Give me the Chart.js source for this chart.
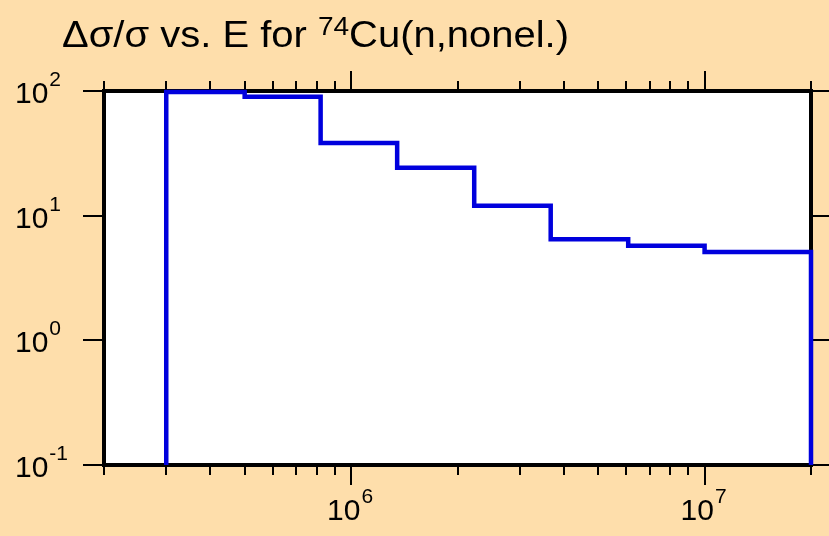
<!DOCTYPE html>
<html>
<head>
<meta charset="utf-8">
<script src="https://cdn.jsdelivr.net/npm/chart.js@4.4.1/dist/chart.umd.min.js"></script>
<style>
  html, body { margin: 0; padding: 0; background: #fedeab; }
  #wrap { width: 829px; height: 536px; }
</style>
</head>
<body>
<div id="wrap"><canvas id="myChart" width="829" height="536"></canvas></div>
<script>
// bin edges in eV and relative uncertainty (%) per bin
const binEdges = [3e5, 5e5, 8.2e5, 1.35e6, 2.23e6, 3.67e6, 6.08e6, 1e7, 2e7];
const relUnc = [98, 90, 38.3, 24.2, 12.0, 6.47, 5.74, 5.12];
const yFloor = 0.1;

// axis ticks (decades) and their exponent labels
const xMajorTicks = [1e6, 1e7];
const xMajorExp = ['6', '7'];
const yMajorTicks = [0.1, 1, 10, 100];
const yMajorExp = ['-1', '0', '1', '2'];
const xMinorMant = [2, 3, 4, 5, 6, 7, 8, 9];
const xDecades = [1e5, 1e6, 1e7];

const FONT = '"Liberation Sans", Arial, sans-serif';

// puntos del histograma (escalones)
const points = [{ x: binEdges[0], y: yFloor }];
relUnc.forEach((v, i) => points.push({ x: binEdges[i], y: v }));
points.push({ x: binEdges[binEdges.length - 1], y: relUnc[relUnc.length - 1] });
points.push({ x: binEdges[binEdges.length - 1], y: yFloor });

function drawPow(ctx, exp, x, y) {
    // "10" con exponente, x = borde izquierdo, y = linea base
    ctx.font = '30px ' + FONT;
    ctx.textAlign = 'left';
    ctx.textBaseline = 'alphabetic';
    ctx.fillText('10', x, y);
    const w = ctx.measureText('10').width;
    ctx.font = '21px ' + FONT;
    ctx.fillText(exp, x + w + 1, y - 17);
}

function powWidth(ctx, exp) {
    ctx.font = '30px ' + FONT;
    const w = ctx.measureText('10').width;
    ctx.font = '21px ' + FONT;
    return w + 1 + ctx.measureText(exp).width;
}

const framePlugin = {
    id: 'frame',
    beforeDraw(chart) {
        const { ctx, chartArea: a } = chart;
        ctx.save();
        ctx.fillStyle = '#fedeab';
        ctx.fillRect(0, 0, chart.width, chart.height);
        ctx.fillStyle = '#ffffff';
        ctx.fillRect(a.left, a.top, a.right - a.left, a.bottom - a.top);
        ctx.restore();
    },
    beforeDatasetsDraw(chart) {
        const { ctx, chartArea: a } = chart;
        const xs = chart.scales.x, ys = chart.scales.y;
        ctx.save();
        ctx.strokeStyle = '#000';
        ctx.fillStyle = '#000';

        // ticks menores y mayores en x (abajo y arriba)
        ctx.lineWidth = 2;
        ctx.beginPath();
        xDecades.forEach(d => {
            xMinorMant.forEach(m => {
                const v = d * m;
                if (v < xs.min - 1 || v > xs.max + 1) return;
                const px = Math.round(xs.getPixelForValue(v));
                ctx.moveTo(px, a.bottom); ctx.lineTo(px, a.bottom + 10);
                ctx.moveTo(px, a.top); ctx.lineTo(px, a.top - 10);
            });
        });
        xMajorTicks.forEach(v => {
            const px = Math.round(xs.getPixelForValue(v));
            ctx.moveTo(px, a.bottom); ctx.lineTo(px, a.bottom + 20);
            ctx.moveTo(px, a.top); ctx.lineTo(px, a.top - 20);
        });
        // ticks en y (izquierda y derecha)
        yMajorTicks.forEach(v => {
            const py = Math.round(ys.getPixelForValue(v));
            ctx.moveTo(a.left, py); ctx.lineTo(a.left - 21, py);
            ctx.moveTo(a.right, py); ctx.lineTo(chart.width, py);
        });
        ctx.stroke();

        // marco
        ctx.lineWidth = 4;
        ctx.strokeRect(a.left, a.top, a.right - a.left, a.bottom - a.top);

        // etiquetas
        ctx.fillStyle = '#000';
        yMajorTicks.forEach((v, i) => {
            const py = ys.getPixelForValue(v);
            drawPow(ctx, yMajorExp[i], 15, py + 12);
        });
        xMajorTicks.forEach((v, i) => {
            const px = xs.getPixelForValue(v);
            const w = powWidth(ctx, xMajorExp[i]);
            drawPow(ctx, xMajorExp[i], px - w / 2 - 1, a.bottom + 55);
        });

        // titulo (algo ensanchado, como en la original)
        ctx.save();
        ctx.translate(62, 0);
        ctx.scale(1.08, 1);
        ctx.font = '37px ' + FONT;
        ctx.textAlign = 'left';
        ctx.textBaseline = 'alphabetic';
        let tx = 0;
        const part1 = '\u0394\u03c3/\u03c3 vs. E for ';
        ctx.fillText(part1, tx, 47);
        tx += ctx.measureText(part1).width;
        ctx.font = '26px ' + FONT;
        ctx.fillText('74', tx, 35);
        tx += ctx.measureText('74').width;
        ctx.font = '37px ' + FONT;
        ctx.fillText('Cu(n,nonel.)', tx, 47);
        ctx.restore();
        ctx.restore();
    }
};

const ctx = document.getElementById('myChart').getContext('2d');
const myChart = new Chart(ctx, {
    type: 'line',
    data: {
        datasets: [{
            data: points,
            borderColor: '#0000dd',
            borderWidth: 4.5,
            stepped: 'before',
            pointRadius: 0,
            fill: false,
            clip: 6,
            borderCapStyle: 'butt',
            borderJoinStyle: 'miter'
        }]
    },
    options: {
        responsive: false,
        animation: false,
        layout: { padding: { left: 104, right: 18, top: 91, bottom: 71 } },
        plugins: { legend: { display: false }, tooltip: { enabled: false } },
        scales: {
            x: {
                type: 'logarithmic',
                min: 2e5,
                max: 2e7,
                grid: { display: false },
                border: { display: false },
                ticks: { display: false },
                afterFit(scale) { scale.height = 0; }
            },
            y: {
                type: 'logarithmic',
                min: 0.1,
                max: 100,
                grid: { display: false },
                border: { display: false },
                ticks: { display: false },
                afterFit(scale) { scale.width = 0; }
            }
        }
    },
    plugins: [framePlugin]
});
</script>
</body>
</html>
